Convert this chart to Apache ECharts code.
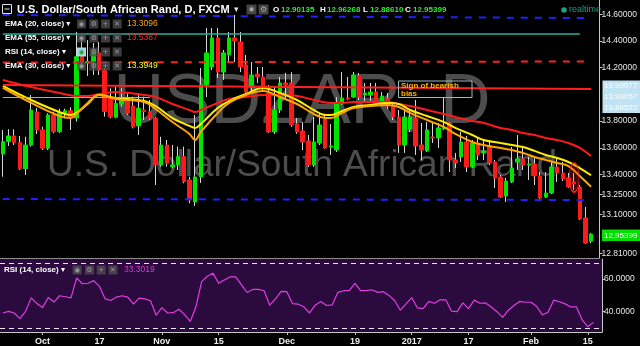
<!DOCTYPE html>
<html><head><meta charset="utf-8">
<script src="https://cdn.jsdelivr.net/npm/echarts@6/dist/echarts.min.js"></script>
<style>html,body{margin:0;padding:0;background:#000;overflow:hidden}#c{width:640px;height:346px}</style>
</head><body><div id="c"></div>
<script>
// ---------- DATA ----------
const dates = [
'2016-09-22','2016-09-23','2016-09-26','2016-09-27','2016-09-28','2016-09-29','2016-09-30',
'2016-10-03','2016-10-04','2016-10-05','2016-10-06','2016-10-07','2016-10-10','2016-10-11','2016-10-12','2016-10-13','2016-10-14',
'2016-10-17','2016-10-18','2016-10-19','2016-10-20','2016-10-21','2016-10-24','2016-10-25','2016-10-26','2016-10-27','2016-10-28','2016-10-31',
'2016-11-01','2016-11-02','2016-11-03','2016-11-04','2016-11-07','2016-11-08','2016-11-09','2016-11-10','2016-11-11','2016-11-14',
'2016-11-15','2016-11-16','2016-11-17','2016-11-18','2016-11-21','2016-11-22','2016-11-23','2016-11-24','2016-11-25','2016-11-28','2016-11-29','2016-11-30',
'2016-12-01','2016-12-02','2016-12-05','2016-12-06','2016-12-07','2016-12-08','2016-12-09','2016-12-12','2016-12-13','2016-12-14','2016-12-15','2016-12-16',
'2016-12-19','2016-12-20','2016-12-21','2016-12-22','2016-12-23','2016-12-26','2016-12-27','2016-12-28','2016-12-29','2016-12-30',
'2017-01-03','2017-01-04','2017-01-05','2017-01-06','2017-01-09','2017-01-10','2017-01-11','2017-01-12','2017-01-13','2017-01-16',
'2017-01-17','2017-01-18','2017-01-19','2017-01-20','2017-01-23','2017-01-24','2017-01-25','2017-01-26','2017-01-27','2017-01-30','2017-01-31',
'2017-02-01','2017-02-02','2017-02-03','2017-02-06','2017-02-07','2017-02-08','2017-02-09','2017-02-10','2017-02-13','2017-02-14','2017-02-15','2017-02-16','2017-02-17'];

const tickDates = ['2016-10-03','2016-10-17','2016-11-01','2016-11-15','2016-12-01','2016-12-19','2017-01-03','2017-01-17','2017-02-01','2017-02-15'];
const tickText  = ['Oct','17','Nov','15','Dec','19','2017','17','Feb','15'];

const openV = [13.554,13.646,13.689,13.639,13.444,13.621,13.868,13.734,13.597,13.846,
13.721,13.863,13.878,13.823,14.282,14.235,14.245,14.310,14.182,13.980,
13.829,13.928,13.958,13.913,13.764,13.883,13.871,13.821,13.472,13.621,
13.459,13.472,13.534,13.360,13.195,13.382,14.070,14.205,14.422,14.167,
14.295,14.422,14.392,14.220,14.055,14.152,14.130,14.010,13.719,13.883,
14.085,14.085,13.779,13.726,13.651,13.472,13.636,13.816,13.606,13.584,
13.928,13.973,13.980,14.138,13.995,13.995,14.018,13.943,13.966,13.913,
13.831,13.621,13.741,13.823,13.621,13.577,13.681,13.674,13.745,13.786,
13.509,13.532,13.644,13.457,13.636,13.562,13.614,13.494,13.382,13.240,
13.345,13.494,13.517,13.472,13.479,13.390,13.232,13.262,13.457,13.412,
13.375,13.345,13.307,13.075,12.90135];
const closeV = [13.646,13.689,13.639,13.444,13.621,13.883,13.734,13.597,13.846,13.721,
13.863,13.878,13.823,14.282,14.235,14.245,14.310,14.182,13.871,13.833,
13.933,13.971,13.859,13.758,13.896,13.871,13.821,13.472,13.621,13.485,
13.472,13.534,13.347,13.210,13.382,14.070,14.310,14.422,14.167,14.310,
14.422,14.399,14.205,14.018,14.145,14.130,14.055,13.719,13.883,14.085,
14.070,13.771,13.719,13.644,13.472,13.644,13.771,13.599,13.614,13.936,
13.973,13.966,14.145,13.980,14.010,14.018,13.943,13.988,13.913,13.831,
13.621,13.831,13.831,13.614,13.584,13.734,13.674,13.749,13.752,13.509,
13.487,13.644,13.457,13.636,13.547,13.577,13.487,13.375,13.232,13.352,
13.449,13.517,13.472,13.479,13.390,13.225,13.262,13.457,13.412,13.367,
13.307,13.330,13.068,12.888,12.95399];
const lowV = [13.384,13.614,13.621,13.434,13.397,13.609,13.704,13.584,13.584,13.709,
13.711,13.821,13.734,13.796,14.212,14.138,14.145,14.145,13.833,13.821,
13.821,13.908,13.846,13.746,13.696,13.808,13.808,13.322,13.459,13.459,
13.447,13.434,13.335,13.185,13.165,13.337,13.980,14.182,14.123,14.108,
14.235,14.242,14.167,14.010,14.018,14.085,14.018,13.711,13.704,13.861,
13.973,13.756,13.704,13.584,13.457,13.457,13.621,13.592,13.547,13.569,
13.921,13.958,13.973,13.958,13.936,13.936,13.936,13.921,13.891,13.808,
13.562,13.562,13.719,13.547,13.509,13.569,13.636,13.599,13.734,13.419,
13.449,13.494,13.419,13.449,13.509,13.509,13.472,13.300,13.225,13.195,
13.337,13.434,13.434,13.360,13.322,13.210,13.225,13.255,13.345,13.352,
13.300,13.285,13.060,12.881,12.88610];
const highV = [13.734,13.739,13.739,13.689,13.683,13.995,13.898,13.758,13.859,13.871,
13.893,13.893,13.903,14.467,14.407,14.407,14.384,14.392,14.197,14.046,
14.058,14.046,14.018,13.983,14.008,13.983,13.958,13.833,13.683,13.659,
13.621,13.609,13.609,13.384,13.846,14.197,14.497,14.497,14.497,14.332,
14.467,14.594,14.467,14.295,14.242,14.205,14.205,14.070,14.055,14.130,
14.160,14.167,13.823,13.793,13.696,13.831,13.861,13.846,13.779,13.980,
14.167,14.130,14.167,14.160,14.085,14.085,14.085,14.018,14.010,13.943,
13.883,13.883,13.883,13.958,13.786,13.793,13.793,13.786,13.980,13.793,
13.562,13.719,13.689,13.659,13.681,13.659,13.659,13.509,13.397,13.375,
13.606,13.696,13.614,13.532,13.532,13.419,13.419,13.494,13.532,13.494,
13.412,13.412,13.322,13.158,12.96268];

const rsiV = [39.1,40.1,39.1,35.6,40.1,48.4,44.9,42.4,48.6,45.8,
49.7,49.1,48.4,60.7,57.1,57.4,59.0,55.5,47.8,46.8,
48.9,49.7,48.9,44.5,48.2,47.8,46.6,37.7,42.4,39.1,
39.3,41.4,38.1,33.9,42.9,58.4,61.7,63.6,57.4,59.4,
61.3,61.3,56.5,51.7,53.6,53.6,52.8,43.9,47.8,52.4,
52.2,44.9,44.5,42.9,39.1,43.9,46.2,43.7,44.1,51.8,
52.8,52.8,57.3,52.8,52.8,53.4,51.8,52.2,49.9,46.6,
40.8,44.7,48.6,42.2,41.8,46.2,45.1,47.2,47.2,40.2,
39.9,45.3,41.8,47.0,45.1,45.3,42.8,39.9,36.4,40.8,
43.7,46.2,45.7,45.7,43.1,37.9,39.5,47.0,46.0,44.7,
42.8,42.8,35.0,30.6,33.3019];

// EMA readings taken at these candle positions
const emaIdx = [0,5,10,12,13,15,17,20,25,27,30,33,34,35,38,40,43,46,49,52,55,57,58,60,62,65,68,70,72,75,78,80,83,85,88,90,92,94,96,98,100,102,104];
const ema20V = [14.048,13.936,13.838,13.823,13.853,13.936,13.995,13.966,13.943,13.891,13.793,13.704,13.659,13.719,13.861,13.936,13.995,14.025,13.980,13.928,13.853,13.823,13.823,13.861,13.898,13.913,13.921,13.906,13.861,13.808,13.756,13.704,13.644,13.621,13.599,13.584,13.562,13.532,13.509,13.487,13.464,13.390,13.3096];
const ema30V = [14.063,13.958,13.868,13.846,13.861,13.928,13.995,13.973,13.950,13.913,13.823,13.764,13.749,13.779,13.898,13.950,14.003,14.048,14.010,13.958,13.883,13.846,13.846,13.876,13.906,13.921,13.936,13.928,13.883,13.838,13.793,13.749,13.696,13.659,13.636,13.621,13.606,13.577,13.547,13.524,13.494,13.449,13.3949];
const ema55Idx = [0,5,10,13,15,17,20,25,27,30,33,34,35,38,40,43,46,49,52,55,58,60,62,65,68,70,72,75,78,80,83,85,88,90,92,94,96,98,100,102,104];
const ema55V = [14.108,14.055,14.010,13.988,13.988,14.003,14.018,13.995,13.980,13.928,13.883,13.868,13.883,13.936,13.966,13.980,13.995,13.995,13.988,13.958,13.936,13.936,13.943,13.943,13.943,13.928,13.913,13.883,13.853,13.831,13.801,13.786,13.749,13.734,13.711,13.696,13.674,13.659,13.636,13.599,13.5387];

const priceTicks = [14.6,14.4,14.2,13.8,13.6,13.4,13.25,13.1,12.81];
const rsiTicks = [40,60];
const rsiBands = [70,30];

// hand-drawn horizontal lines: [start level, end level] and [start candle, end candle]
const drawLevels = [[14.594,14.571],[14.454,14.454],[14.238,14.246],[14.070,14.040],[13.975,13.975],[13.217,13.210]];
const drawSpan   = [[0,103],[0,102],[0,103],[0,104],[0,26],[0,103]];
const lastPrice = 12.95399;
const ohlcHeader = ['12.90135','12.96268','12.88610','12.95399'];
const legendVals = ['13.3096','13.5387','13.3949','33.3019'];
const sideLabels = ['13.99077','13.90057','13.88522'];
const ellipseAt = ['2017-02-13', 13.378];
const noteText = 'Sign of bearish\nbias';

// ---------- CHART ----------
const FF = '"Liberation Sans", Arial, "DejaVu Sans", sans-serif';
const drawStyles = [
  {color:'#2020ff', type:[7,7], width:2},
  {color:'#26b39c', type:'solid', width:1.5},
  {color:'#ff2020', type:[7,7], width:2},
  {color:'#ff2020', type:'solid', width:2},
  {color:'#7ccf7c', type:'solid', width:1},
  {color:'#2020ff', type:[7,7], width:2}
];
const tickSet = new Set(tickDates);
const ohlc = openV.map((o,i)=>[o, closeV[i], lowV[i], highV[i]]);
const bodies = openV.map((o,i)=>[o, closeV[i], Math.min(o,closeV[i]), Math.max(o,closeV[i])]);
const pairs = (idx, v) => idx.map((k,i)=>[k, v[i]]);

function txt(x,y,text,fill,font,z){
  return {type:'text', x:x, y:y, z:z||100, silent:true,
    style:{text:text, fill:fill, font:font, textAlign:'left', textVerticalAlign:'middle', align:'left', verticalAlign:'middle'}};
}
function box(x,y,w,h,fill,stroke,z){
  return {type:'rect', z:z||100, silent:true, shape:{x:x,y:y,width:w,height:h}, style:{fill:fill, stroke:stroke||null, lineWidth:1}};
}
const graphics = [];
// watermark
graphics.push({type:'text', x:302, y:104, z:1, silent:true, style:{text:'USDZAR, D', fill:'rgba(140,140,140,0.55)', font:'70px '+FF, textAlign:'center', textVerticalAlign:'middle', align:'center', verticalAlign:'middle'}});
graphics.push({type:'text', x:302, y:166, z:1, silent:true, style:{text:'U.S. Dollar/South African Rand', fill:'rgba(140,140,140,0.55)', font:'37px '+FF, textAlign:'center', textVerticalAlign:'middle', align:'center', verticalAlign:'middle'}});
// title
graphics.push(box(2.5,4.5,9,9,null,'#e0e0e0'));
graphics.push({type:'line', z:100, silent:true, shape:{x1:4.5,y1:9,x2:9.5,y2:9}, style:{stroke:'#e0e0e0', lineWidth:1}});
graphics.push(txt(17,9.5,'U.S. Dollar/South African Rand, D, FXCM','#ffffff','bold 11px '+FF));
graphics.push(txt(234,10,'▾','#dddddd','9px "DejaVu Sans"'));
graphics.push(box(246.5,4.5,10,10,'#444'));
graphics.push(box(258.5,4.5,10,10,'#444'));
graphics.push(txt(248.5,9.5,'◉','#aaa','7px "DejaVu Sans"'));
graphics.push(txt(260,9.5,'⚙','#aaa','8px "DejaVu Sans"'));
[['O',273,281],['H',320,327],['L',363,370],['C',405,413]].forEach((h,i)=>{
  graphics.push(txt(h[1],10,h[0],'#ffffff','bold 8px '+FF));
  graphics.push(txt(h[2],10,ohlcHeader[i],'#33e833','bold 8px '+FF));
});
graphics.push({type:'circle', z:100, silent:true, shape:{cx:564,cy:10,r:2.8}, style:{fill:'#1f9d86'}});
graphics.push(txt(569,10,'realtime','#1f9d86','9px '+FF));
// legend rows
const rows = [['EMA (20, close)',24,'#ffa500',0],['EMA (55, close)',38,'#ff2a2a',1],['RSI (14, close)',52,null,-1],['EMA (30, close)',66,'#ffff00',2]];
const glyphs = ['◉','⚙','+','✕'];
function iconRow(x0,yc,hl){
  [0,12.3,24,35.7].forEach((dx,j)=>{
    graphics.push(box(x0+dx,yc-4.5,9,9,(hl&&j===0)?'#a8d8f0':'rgba(80,80,80,0.75)'));
    graphics.push({type:'text', x:x0+dx+4.5, y:yc, z:101, silent:true, style:{text:glyphs[j], fill:(hl&&j===0)?'#22aa22':'#9a9a9a', font:'7px "DejaVu Sans"', textAlign:'center', textVerticalAlign:'middle', align:'center', verticalAlign:'middle'}});
  });
}
rows.forEach(r=>{
  graphics.push(txt(5,r[1],r[0]+' ▾','#ffffff','bold 8px '+FF));
  iconRow(77,r[1],r[3]===-1);
  if(r[3]>=0) graphics.push(txt(127,r[1],legendVals[r[3]],r[2],'8.5px '+FF));
});
// RSI legend
graphics.push(txt(4,270,'RSI (14, close) ▾','#ffffff','bold 8px '+FF));
iconRow(72.7,270,false);
graphics.push(txt(124,270,legendVals[3],'#d43ad4','8.5px '+FF));
// right side stacked labels
graphics.push(box(602.5,80.5,37.5,32.5,'#bfe2f4'));
sideLabels.forEach((s,i)=>graphics.push(txt(604,86.2+i*10.7,s,'#ffffff','8px '+FF)));
// last price label
graphics.push(box(602,229.5,38,11.5,'#00e000'));
graphics.push(txt(604,235.3,lastPrice.toFixed(5),'#ffffff','8px '+FF));
// annotation box
graphics.push(box(398.5,81,73.5,16.5,null,'#9bb8c9'));
graphics.push({type:'text', x:401, y:82, z:100, silent:true, style:{text:noteText, fill:'#ffb000', font:'bold 8px '+FF, lineHeight:8, textAlign:'left', textVerticalAlign:'top', align:'left', verticalAlign:'top'}});

const chart = echarts.init(document.getElementById('c'));
chart.setOption({
  backgroundColor:'#000',
  animation:false,
  grid:[
    {left:0, right:38, top:0, height:258},
    {left:0, right:38, top:259, height:77.5, show:true, backgroundColor:'#2b0b3e', borderWidth:0}
  ],
  xAxis:[
    {type:'category', gridIndex:0, data:dates, axisLine:{show:true, lineStyle:{color:'#8c8c8c'}}, axisTick:{show:false}, axisLabel:{show:false}, splitLine:{show:false}},
    {type:'category', gridIndex:1, data:dates,
     axisLine:{show:true, lineStyle:{color:'#c8c8c8'}},
     axisTick:{show:true, alignWithLabel:true, length:3, interval:(i,v)=>tickSet.has(v), lineStyle:{color:'#c8c8c8'}},
     axisLabel:{interval:(i,v)=>tickSet.has(v), formatter:v=>tickText[tickDates.indexOf(v)], color:'#eeeeee', fontSize:9, fontWeight:'bold', fontFamily:FF, margin:5},
     splitLine:{show:false}}
  ],
  yAxis:[
    {type:'value', gridIndex:0, position:'right', min:12.776, max:14.706, scale:true,
     axisLine:{show:true, lineStyle:{color:'#c8c8c8'}},
     axisTick:{show:true, length:3, customValues:priceTicks, lineStyle:{color:'#c8c8c8'}},
     axisLabel:{customValues:priceTicks, formatter:v=>v.toFixed(5), color:'#e8e8e8', fontSize:8.5, fontFamily:FF, margin:2},
     splitLine:{show:false}},
    {type:'value', gridIndex:1, position:'right', min:27.39, max:72.32,
     axisLine:{show:true, lineStyle:{color:'#c8c8c8'}},
     axisTick:{show:true, length:3, customValues:rsiTicks, lineStyle:{color:'#c8c8c8'}},
     axisLabel:{customValues:rsiTicks, formatter:v=>v.toFixed(4), color:'#e8e8e8', fontSize:8.5, fontFamily:FF, margin:2},
     splitLine:{show:false}}
  ],
  graphic:graphics,
  series:[
    {type:'candlestick', name:'wicks', xAxisIndex:0, yAxisIndex:0, data:ohlc, barWidth:1, silent:true,
     itemStyle:{color:'#d6d6d6', color0:'#d6d6d6', borderColor:'#d6d6d6', borderColor0:'#d6d6d6', borderWidth:1}},
    {type:'candlestick', name:'bodies', xAxisIndex:0, yAxisIndex:0, data:bodies, barWidth:4, silent:true,
     itemStyle:{color:'#00e400', color0:'#ff1a1a', borderColor:'#00e400', borderColor0:'#ff1a1a', borderWidth:1},
     markLine:{silent:true, symbol:'none', animation:false,
       data: drawLevels.map((lv,i)=>[
         {coord:[drawSpan[i][0], lv[0]], lineStyle:drawStyles[i], label:{show:false}},
         {coord:[drawSpan[i][1], lv[1]]}
       ])},
     markPoint:{silent:true, data:[{coord:ellipseAt, symbol:'path://M0,50 A50,50 0 1,1 100,50 A50,50 0 1,1 0,50 Z', symbolSize:[10,29], symbolKeepAspect:false,
       itemStyle:{color:'rgba(255,40,40,0.25)', borderColor:'#ff2a2a', borderWidth:1}, label:{show:false}}]}},
    {type:'line', name:'EMA55', xAxisIndex:0, yAxisIndex:0, data:pairs(ema55Idx, ema55V), showSymbol:false, smooth:0.4, silent:true, lineStyle:{color:'#ff1a1a', width:2}},
    {type:'line', name:'EMA30', xAxisIndex:0, yAxisIndex:0, data:pairs(emaIdx, ema30V), showSymbol:false, smooth:0.4, silent:true, lineStyle:{color:'#ffee00', width:2}},
    {type:'line', name:'EMA20', xAxisIndex:0, yAxisIndex:0, data:pairs(emaIdx, ema20V), showSymbol:false, smooth:0.4, silent:true, lineStyle:{color:'#ffa500', width:2}},
    {type:'line', name:'RSI', xAxisIndex:1, yAxisIndex:1, data:rsiV, showSymbol:false, silent:true, lineStyle:{color:'#e03ee0', width:1.2},
     markLine:{silent:true, symbol:'none', label:{show:false}, lineStyle:{color:'#e8e8e8', type:[5,4], width:1},
       data: rsiBands.map(b=>({yAxis:b}))}}
  ]
});
</script></body></html>
